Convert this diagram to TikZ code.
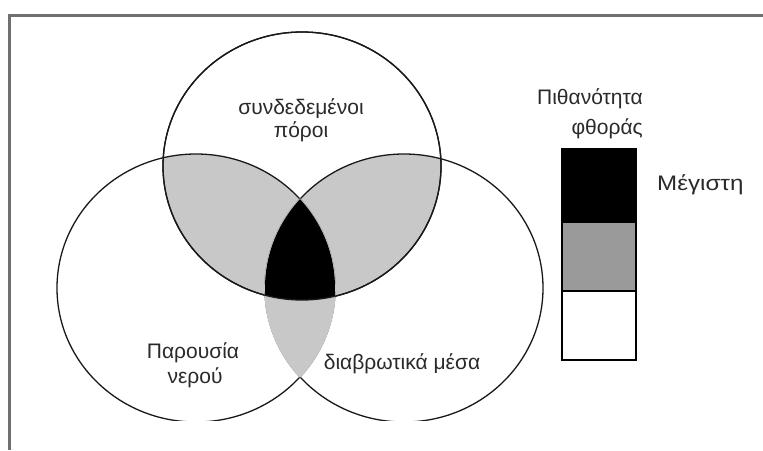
\documentclass[tikz,border=0pt]{standalone}
\usepackage{fontspec}
\setmainfont{Liberation Sans}
\definecolor{lgray}{HTML}{C8C8C8}
\definecolor{mgray}{HTML}{9A9A9A}
\definecolor{frameg}{HTML}{707070}
\definecolor{txt}{HTML}{2A2A2A}
\begin{document}
\begin{tikzpicture}[x=1pt,y=-1pt,
  lbl/.style={text=txt, font=\fontsize{21}{24}\selectfont, inner sep=0pt},
  venn/.style={draw=black!90, line width=1.3pt},
  legbox/.style={draw=black, line width=1.3pt, minimum width=74pt, inner sep=0pt, outer sep=0pt, anchor=north west}]
\useasboundingbox (0,0) rectangle (763,450);
\fill[white] (0,0) rectangle (763,450);
\def\TopC{(302,166) ellipse [x radius=139pt, y radius=134pt]}
\def\LeftC{(196,288) ellipse [x radius=139pt, y radius=134pt]}
\def\RightC{(404,288) ellipse [x radius=139pt, y radius=134pt]}
\begin{scope}
  \clip (9,14) rectangle (763,420.5);
  \begin{scope}\clip \TopC; \fill[lgray] \LeftC; \fill[lgray] \RightC; \end{scope}
  \draw[venn] \TopC;
  \draw[venn] \LeftC;
  \draw[venn] \RightC;
  % lower lens without outline
  \begin{scope}\clip \LeftC; \fill[lgray] \RightC; \draw[lgray, line width=1.6pt] \RightC; \end{scope}
  \begin{scope}\clip \RightC; \draw[lgray, line width=1.6pt] \LeftC; \end{scope}
  \begin{scope}\clip \TopC; \clip \LeftC; \fill[black] \RightC; \end{scope}
  \draw[venn] \TopC;
\end{scope}
% frame
\draw[frameg, line width=3pt] (9.5,450) -- (9.5,15.5) -- (763,15.5);
% labels
\node[lbl, anchor=base] (t1) at (301,114) {συνδεδεμένοι};
\node[lbl, anchor=base] (t2) at (301,137) {πόροι};
\node[lbl, anchor=base] (l1) at (193,358) {Παρουσία};
\node[lbl, anchor=base] (l2) at (195,383) {νερού};
\node[lbl, anchor=base] (r1) at (402,369) {διαβρωτικά μέσα};
\node[lbl, anchor=base east] (p1) at (643,104) {Πιθανότητα};
\node[lbl, anchor=base east] (p2) at (643,134) {φθοράς};
% legend
\node[legbox, fill=black, minimum height=73pt] (k1) at (562,149) {};
\node[legbox, fill=mgray, minimum height=69pt] (k2) at (k1.south west) {};
\node[legbox, fill=white, minimum height=69pt] (k3) at (k2.south west) {};
\node[lbl, anchor=base west, xscale=1.15] (m1) at (657,190) {Μέγιστη};
\end{tikzpicture}
\end{document}
